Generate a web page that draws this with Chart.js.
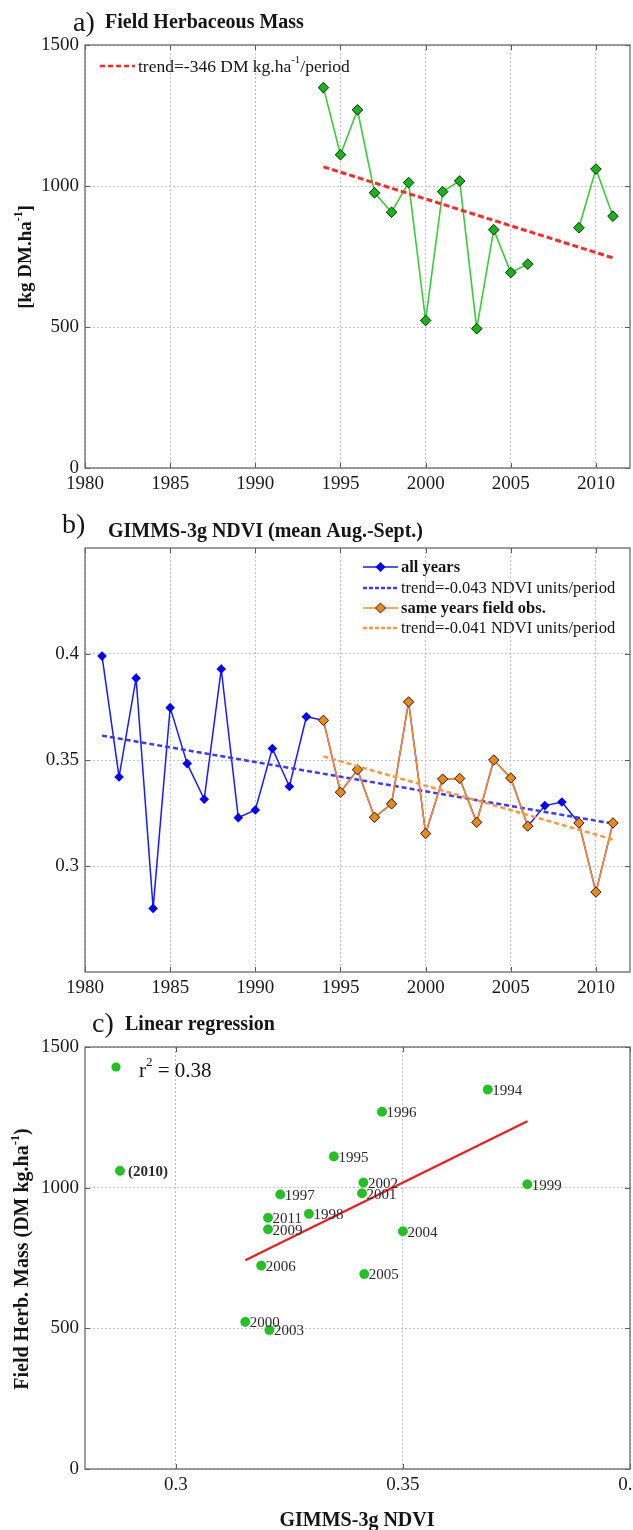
<!DOCTYPE html>
<html>
<head>
<meta charset="utf-8">
<script src="https://cdn.jsdelivr.net/npm/chart.js@4.4.1/dist/chart.umd.min.js"></script>
<style>
  html, body { margin: 0; padding: 0; background: #fff; }
  #wrap { position: relative; width: 633px; height: 1530px; }
  canvas { position: absolute; left: 0; }
</style>
</head>
<body>
<div id="wrap">
  <canvas id="chartA" width="633" height="500" style="top:0"></canvas>
  <canvas id="chartB" width="633" height="500" style="top:500px"></canvas>
  <canvas id="chartC" width="633" height="530" style="top:1000px"></canvas>
</div>
<script>
"use strict";

// ---- data ----
const years = [1981, 1982, 1983, 1984, 1985, 1986, 1987, 1988, 1989, 1990,
               1991, 1992, 1993, 1994, 1995, 1996, 1997, 1998, 1999, 2000,
               2001, 2002, 2003, 2004, 2005, 2006, 2007, 2008, 2009, 2010, 2011];
const ndvi = [0.399, 0.342, 0.3886, 0.280, 0.3747, 0.3483, 0.3315, 0.3929, 0.3228, 0.3264,
              0.3554, 0.3375, 0.3704, 0.3687, 0.3348, 0.3454, 0.3230, 0.3293, 0.3774, 0.3153,
              0.3410, 0.3413, 0.3206, 0.3500, 0.3415, 0.3188, 0.3285, 0.3302, 0.3203, 0.2877, 0.3203];

const massYears = [1994, 1995, 1996, 1997, 1998, 1999, 2000, 2001, 2002, 2003,
                   2004, 2005, 2006, 2007, 2008, 2009, 2010, 2011];
const mass = [1349, 1111, 1270, 976, 907, 1012, 523, 980, 1018, 494,
              845, 693, 723, null, null, 852, 1060, 893];

const massTrendYears = [1994, 2011];
const massTrend = [1068, 745];
const ndviTrendAllYears = [1981, 2011];
const ndviTrendAll = [0.3615, 0.3200];
const ndviTrendFieldYears = [1994, 2011];
const ndviTrendField = [0.3517, 0.3125];

const pointLabels = ['1994', '1995', '1996', '1997', '1998', '1999', '2000', '2001', '2002',
                     '2003', '2004', '2005', '2006', '2009', '(2010)', '2011'];
const regressionX = [0.3153, 0.3774];
const regressionY = [742, 1236];

const yearTicks = [1980, 1985, 1990, 1995, 2000, 2005, 2010];
const massTicks = [0, 500, 1000, 1500];
const ndviTicks = [0.3, 0.35, 0.4];
const ndviAxisTicks = [0.3, 0.35, 0.4];

// ---- helpers ----
const SERIF = '"Liberation Serif", "Times New Roman", serif';
Chart.defaults.font.family = SERIF;
Chart.defaults.color = '#1a1a1a';

const fixedTicks = values => scale => { scale.ticks = values.map(v => ({ value: v })); };

function gridOpts() {
  return { color: '#c2c2c2', lineWidth: 1, drawTicks: false, borderDash: [2, 2] };
}

function xAxis(min, max, ticks, height) {
  return {
    type: 'linear', min: min, max: max,
    afterBuildTicks: fixedTicks(ticks),
    afterFit: s => { s.height = height; s.paddingLeft = 0; s.paddingRight = 0; },
    ticks: { padding: 5, autoSkip: false, maxRotation: 0, font: { size: 19 }, callback: v => String(v) },
    grid: gridOpts(),
    border: { display: false, dash: [2, 2] }
  };
}

function yAxis(min, max, ticks) {
  return {
    type: 'linear', min: min, max: max,
    afterBuildTicks: fixedTicks(ticks),
    afterFit: s => { s.width = 85; s.paddingTop = 0; s.paddingBottom = 0; },
    ticks: { padding: 6, autoSkip: false, font: { size: 19 }, callback: v => String(v) },
    grid: gridOpts(),
    border: { display: false, dash: [2, 2] }
  };
}

// text with superscript parts ('^' prefix)
function rich(ctx, parts, x, y, size, weight, align) {
  const font = s => `${weight} ${s}px ${SERIF}`;
  const widths = parts.map(p => {
    const sup = p[0] === '^';
    ctx.font = font(sup ? size * 0.62 : size);
    return ctx.measureText(sup ? p.slice(1) : p).width;
  });
  const total = widths.reduce((a, b) => a + b, 0);
  let cx = align === 'center' ? x - total / 2 : x;
  ctx.textAlign = 'left';
  parts.forEach((p, i) => {
    const sup = p[0] === '^';
    ctx.font = font(sup ? size * 0.62 : size);
    ctx.fillText(sup ? p.slice(1) : p, cx, sup ? y - size * 0.38 : y);
    cx += widths[i];
  });
}

function diamond(ctx, x, y, r, fill, stroke) {
  ctx.beginPath();
  ctx.moveTo(x - r, y); ctx.lineTo(x, y - r); ctx.lineTo(x + r, y); ctx.lineTo(x, y + r);
  ctx.closePath();
  ctx.fillStyle = fill; ctx.fill();
  if (stroke) { ctx.strokeStyle = stroke; ctx.lineWidth = 1; ctx.stroke(); }
}

function legendLine(ctx, x0, x1, y, color, dash, width) {
  ctx.save();
  ctx.strokeStyle = color; ctx.lineWidth = width; ctx.setLineDash(dash);
  ctx.beginPath(); ctx.moveTo(x0, y); ctx.lineTo(x1, y); ctx.stroke();
  ctx.restore();
}

// box, inward ticks and the free text of each panel
function decor(drawText) {
  return {
    id: 'decor',
    afterDraw(chart) {
      const ctx = chart.ctx, a = chart.chartArea;
      const sx = chart.scales.x, sy = chart.scales.y;
      ctx.save();
      ctx.strokeStyle = '#5a5a5a'; ctx.lineWidth = 1;
      ctx.beginPath();
      sx.ticks.forEach(t => {
        const px = Math.round(sx.getPixelForValue(t.value)) + 0.5;
        ctx.moveTo(px, a.bottom); ctx.lineTo(px, a.bottom - 5);
        ctx.moveTo(px, a.top); ctx.lineTo(px, a.top + 5);
      });
      sy.ticks.forEach(t => {
        const py = Math.round(sy.getPixelForValue(t.value)) + 0.5;
        ctx.moveTo(a.left, py); ctx.lineTo(a.left + 5, py);
        ctx.moveTo(a.right, py); ctx.lineTo(a.right - 5, py);
      });
      ctx.stroke();
      ctx.strokeStyle = '#6a6a6a'; ctx.lineWidth = 1.3;
      ctx.strokeRect(a.left, a.top, a.right - a.left, a.bottom - a.top);
      ctx.fillStyle = '#151515';
      drawText(ctx, chart);
      ctx.restore();
    }
  };
}

const common = {
  responsive: false,
  animation: false,
  events: [],
  plugins: { legend: { display: false }, tooltip: { enabled: false } }
};

// ---- a) Field Herbaceous Mass ----
new Chart(document.getElementById('chartA'), {
  type: 'line',
  data: {
    datasets: [
      {
        data: massTrendYears.map((y, i) => ({ x: y, y: massTrend[i] })),
        borderColor: '#ff2a2a', borderWidth: 3, borderDash: [6, 3],
        pointRadius: 0, order: 0
      },
      {
        data: massYears.map((y, i) => ({ x: y, y: mass[i] })),
        borderColor: '#3acb3a', borderWidth: 1.6, spanGaps: false,
        pointStyle: 'rectRot', pointRadius: 5.3,
        pointBackgroundColor: '#12b812', pointBorderColor: '#1a1a1a', pointBorderWidth: 1,
        order: 1
      }
    ]
  },
  options: Object.assign({}, common, {
    layout: { autoPadding: false, padding: { top: 45, right: 3, left: 0, bottom: 0 } },
    scales: { x: xAxis(1980, 2012, yearTicks, 32), y: yAxis(0, 1500, massTicks) }
  }),
  plugins: [decor((ctx) => {
    ctx.textBaseline = 'alphabetic';
    ctx.font = `normal 28px ${SERIF}`;
    ctx.fillText('a)', 73, 31);
    ctx.font = `bold 20px ${SERIF}`;
    ctx.fillText('Field Herbaceous Mass', 105, 28);
    ctx.textBaseline = 'middle';
    ctx.save();
    ctx.translate(26, 257); ctx.rotate(-Math.PI / 2);
    rich(ctx, ['[kg DM.ha', '^-1', ']'], 0, 0, 19, 'bold', 'center');
    ctx.restore();
    legendLine(ctx, 100, 135, 66, '#ff2a2a', [5, 3], 2.5);
    rich(ctx, ['trend=-346 DM kg.ha', '^-1', '/period'], 138, 67, 17.5, 'normal', 'left');
  })]
});

// ---- b) GIMMS-3g NDVI ----
const fieldNdvi = massYears.map((y, i) => ({ x: y, y: mass[i] === null ? null : ndvi[years.indexOf(y)] }));

new Chart(document.getElementById('chartB'), {
  type: 'line',
  data: {
    datasets: [
      {
        data: ndviTrendFieldYears.map((y, i) => ({ x: y, y: ndviTrendField[i] })),
        borderColor: '#ff9a3c', borderWidth: 2.5, borderDash: [5, 3], pointRadius: 0, order: 0
      },
      {
        data: fieldNdvi,
        borderColor: '#ff8a1a', borderWidth: 1.5, spanGaps: false,
        pointStyle: 'rectRot', pointRadius: 5.2,
        pointBackgroundColor: '#f08810', pointBorderColor: '#222', pointBorderWidth: 1,
        order: 1
      },
      {
        data: ndviTrendAllYears.map((y, i) => ({ x: y, y: ndviTrendAll[i] })),
        borderColor: '#3b3bff', borderWidth: 2.5, borderDash: [5, 3], pointRadius: 0, order: 2
      },
      {
        data: years.map((y, i) => ({ x: y, y: ndvi[i] })),
        borderColor: '#1a1aff', borderWidth: 1.5,
        pointStyle: 'rectRot', pointRadius: 4.8,
        pointBackgroundColor: '#0000ff', pointBorderColor: '#0000ff', pointBorderWidth: 0,
        order: 3
      }
    ]
  },
  options: Object.assign({}, common, {
    layout: { autoPadding: false, padding: { top: 48, right: 3, left: 0, bottom: 0 } },
    scales: {
      x: xAxis(1980, 2012, yearTicks, 28),
      y: yAxis(0.25, 0.45, ndviTicks)
    }
  }),
  plugins: [decor((ctx) => {
    ctx.textBaseline = 'alphabetic';
    ctx.font = `normal 28px ${SERIF}`;
    ctx.fillText('b)', 62, 33);
    ctx.font = `bold 20px ${SERIF}`;
    ctx.fillText('GIMMS-3g NDVI (mean Aug.-Sept.)', 108, 36.5);
    ctx.textBaseline = 'middle';
    const rows = [67, 88, 108, 128];
    legendLine(ctx, 363, 398, rows[0], '#1a1aff', [], 1.5);
    diamond(ctx, 380.5, rows[0], 5, '#0000ff', null);
    legendLine(ctx, 363, 398, rows[1], '#3b3bff', [4, 2], 2.5);
    legendLine(ctx, 363, 398, rows[2], '#ff8a1a', [], 1.5);
    diamond(ctx, 380.5, rows[2], 5, '#f08810', '#222');
    legendLine(ctx, 363, 398, rows[3], '#ff9a3c', [4, 2], 2.5);
    ctx.fillStyle = '#151515';
    ctx.font = `bold 16.5px ${SERIF}`;
    ctx.fillText('all years', 401, rows[0] + 1);
    ctx.fillText('same years field obs.', 401, rows[2] + 1);
    ctx.font = `normal 16.5px ${SERIF}`;
    ctx.fillText('trend=-0.043 NDVI units/period', 401, rows[1] + 1);
    ctx.fillText('trend=-0.041 NDVI units/period', 401, rows[3] + 1);
  })]
});

// ---- c) Linear regression ----
const scatterPts = [];
massYears.forEach((y, i) => {
  if (mass[i] !== null) scatterPts.push({ x: ndvi[years.indexOf(y)], y: mass[i] });
});

new Chart(document.getElementById('chartC'), {
  type: 'scatter',
  data: {
    datasets: [
      {
        data: regressionX.map((x, i) => ({ x: x, y: regressionY[i] })),
        showLine: true, borderColor: '#f01c1c', borderWidth: 2.2, pointRadius: 0, order: 0
      },
      {
        data: scatterPts,
        pointRadius: 4.6, pointBackgroundColor: '#1fc41f', pointBorderColor: '#16a516',
        pointBorderWidth: 0.6, order: 1
      }
    ]
  },
  options: Object.assign({}, common, {
    layout: { autoPadding: false, padding: { top: 47, right: 3, left: 0, bottom: 0 } },
    scales: {
      x: xAxis(0.28, 0.4, ndviAxisTicks, 61),
      y: yAxis(0, 1500, massTicks)
    }
  }),
  plugins: [decor((ctx, chart) => {
    ctx.textBaseline = 'alphabetic';
    ctx.font = `normal 28px ${SERIF}`;
    ctx.fillText('c)', 92, 31.5);
    ctx.font = `bold 20px ${SERIF}`;
    ctx.fillText('Linear regression', 125, 30);
    ctx.font = `bold 20px ${SERIF}`;
    ctx.textAlign = 'center';
    ctx.fillText('GIMMS-3g NDVI', 357, 526);
    ctx.textBaseline = 'middle';
    ctx.save();
    ctx.translate(23, 259); ctx.rotate(-Math.PI / 2);
    rich(ctx, ['Field Herb. Mass (DM kg.ha', '^-1', ')'], 0, 0, 20, 'bold', 'center');
    ctx.restore();
    // legend
    ctx.beginPath(); ctx.arc(116, 67, 4.6, 0, Math.PI * 2);
    ctx.fillStyle = '#1fc41f'; ctx.fill();
    ctx.fillStyle = '#151515';
    rich(ctx, ['r', '^2', ' = 0.38'], 139, 71, 21, 'normal', 'left');
    // year labels next to the dots
    const meta = chart.getDatasetMeta(1);
    ctx.textAlign = 'left';
    meta.data.forEach((el, i) => {
      const lbl = pointLabels[i];
      const bold = lbl[0] === '(';
      ctx.font = `${bold ? 'bold' : 'normal'} 15px ${SERIF}`;
      ctx.fillStyle = '#2a2a2a';
      ctx.fillText(lbl, el.x + (bold ? 8 : 4.5), el.y + 1.5);
    });
  })]
});
</script>
</body>
</html>
